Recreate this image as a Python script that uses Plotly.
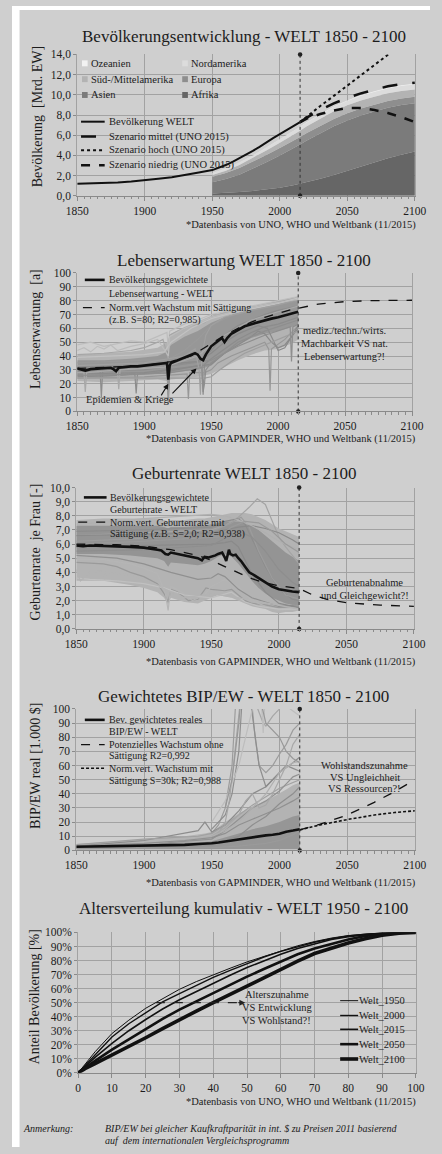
import plotly.graph_objects as go

W, H = 442, 1154
BG = "#cfcfcf"
GRID = "#a2a2a2"
AXIS = "#8a8a8a"
INK = "#1c1c1c"
FONT = "Liberation Serif, Times New Roman, Times, serif"

# ---------------- Panel 1: population ----------------
world_years = [1850, 1860, 1870, 1880, 1890, 1900, 1910, 1920, 1930, 1940, 1950, 1955, 1960,
               1965, 1970, 1975, 1980, 1985, 1990, 1995, 2000, 2005, 2010, 2015]
world_pop = [1.2, 1.22, 1.26, 1.32, 1.42, 1.52, 1.68, 1.84, 2.05, 2.3, 2.55, 2.78, 3.05,
             3.36, 3.7, 4.08, 4.45, 4.85, 5.3, 5.72, 6.1, 6.5, 6.9, 7.3]

region_years = [1950, 1960, 1970, 1980, 1990, 2000, 2010, 2015, 2020, 2030, 2040, 2050,
                2060, 2070, 2080, 2090, 2100]
pop_afrika = [0.23, 0.28, 0.37, 0.48, 0.63, 0.81, 1.04, 1.19, 1.34, 1.68, 2.06, 2.48,
              2.91, 3.33, 3.73, 4.08, 4.39]
pop_asien = [1.12, 1.38, 1.73, 2.20, 2.69, 3.19, 3.64, 3.89, 4.14, 4.52, 4.84, 4.99,
             5.05, 5.02, 4.99, 4.92, 4.77]
pop_europa = [0.55, 0.60, 0.66, 0.69, 0.72, 0.73, 0.74, 0.74, 0.74, 0.73, 0.72, 0.71,
              0.69, 0.68, 0.67, 0.65, 0.65]
pop_suedmittel = [0.17, 0.22, 0.29, 0.36, 0.45, 0.53, 0.60, 0.63, 0.67, 0.72, 0.76, 0.78,
                  0.79, 0.78, 0.76, 0.74, 0.72]
pop_nordamerika = [0.17, 0.20, 0.23, 0.25, 0.28, 0.31, 0.34, 0.36, 0.37, 0.40, 0.42, 0.43,
                   0.45, 0.47, 0.48, 0.49, 0.50]
pop_ozeanien = [0.013, 0.016, 0.020, 0.023, 0.027, 0.031, 0.037, 0.039, 0.043, 0.048, 0.053,
                0.057, 0.061, 0.065, 0.068, 0.070, 0.071]

scen_years = [2015, 2020, 2030, 2040, 2050, 2060, 2070, 2080, 2090, 2100]
scen_mittel = [7.3, 7.75, 8.5, 9.15, 9.7, 10.15, 10.5, 10.85, 11.05, 11.2]
scen_hoch = [7.3, 7.85, 8.9, 9.9, 10.9, 11.85, 12.85, 13.85, 14.9, 16.0]
scen_niedrig = [7.3, 7.65, 8.1, 8.45, 8.7, 8.7, 8.5, 8.2, 7.8, 7.3]

SPLIT_YEAR = 2015

# ---------------- Panel 2: life expectancy ----------------
le_band_years = [1850, 1870, 1890, 1910, 1917, 1920, 1930, 1940, 1950, 1960, 1970, 1980,
                 1990, 2000, 2010, 2015]
le_wide_low = [22, 21, 22, 23, 22, 23, 24, 25, 27, 32, 37, 41, 44, 45, 49, 52]
le_wide_high = [41, 42, 43, 46, 50, 56, 61, 65, 69, 72, 74, 76, 78, 80, 82, 83]
le_core_low = [25, 25, 26, 27, 27, 28, 29, 30, 33, 42, 48, 53, 56, 58, 61, 63]
le_core_high = [37, 37, 38, 40, 43, 48, 54, 58, 64, 68, 71, 73, 75, 77, 79, 80]

le_countries = [
    ([1850, 1860, 1870, 1880, 1890, 1900, 1910, 1917, 1918, 1919, 1930, 1940, 1950, 1960, 1970, 1980, 1990, 2000, 2015],
     [48, 50, 47, 49, 51, 50, 54, 57, 45, 58, 63, 66, 70, 72, 74, 76, 78, 80, 83]),
    ([1850, 1870, 1890, 1900, 1910, 1914, 1918, 1919, 1925, 1935, 1945, 1950, 1960, 1970, 1980, 1990, 2000, 2015],
     [41, 42, 44, 46, 50, 52, 38, 55, 58, 62, 64, 68, 71, 73, 75, 77, 79, 82]),
    ([1850, 1867, 1868, 1869, 1890, 1917, 1918, 1919, 1940, 1950, 1960, 1970, 1980, 1990, 2000, 2015],
     [30, 31, 10, 30, 32, 34, 12, 34, 36, 44, 55, 62, 66, 70, 73, 76]),
    ([1850, 1880, 1893, 1894, 1895, 1910, 1917, 1918, 1919, 1930, 1940, 1943, 1944, 1945, 1950, 1960, 1970, 1980, 1990, 2000, 2015],
     [25, 26, 27, 13, 27, 28, 30, 8, 29, 31, 33, 34, 12, 34, 38, 45, 52, 57, 61, 63, 68]),
    ([1850, 1900, 1932, 1933, 1934, 1945, 1950, 1955, 1965, 1975, 1985, 1990, 1993, 1994, 1995, 2005, 2015],
     [24, 25, 27, 9, 28, 28, 30, 35, 40, 44, 48, 50, 45, 15, 45, 52, 62]),
    ([1850, 1900, 1950, 1960, 1970, 1980, 1985, 1990, 1995, 2000, 2005, 2010, 2015],
     [27, 28, 34, 42, 48, 54, 58, 56, 50, 46, 48, 54, 60]),
    ([1850, 1900, 1940, 1950, 1960, 1970, 1985, 1992, 2000, 2005, 2015],
     [32, 33, 36, 42, 50, 56, 62, 60, 44, 46, 62]),
    ([1850, 1900, 1945, 1950, 1955, 1965, 1975, 1985, 1995, 2005, 2015],
     [24, 24, 24, 25, 29, 36, 42, 46, 50, 54, 58]),
    ([1850, 1880, 1900, 1915, 1920, 1935, 1950, 1965, 1980, 2000, 2015],
     [39, 40, 41, 43, 50, 60, 67, 71, 74, 78, 82]),
    ([1850, 1900, 1950, 1970, 1990, 2005, 2009, 2010, 2011, 2015],
     [29, 30, 37, 47, 55, 60, 61, 36, 61, 63]),
    ([1850, 1880, 1900, 1917, 1918, 1919, 1930, 1940, 1950, 1965, 1980, 2000, 2015],
     [35, 36, 37, 37, 5, 38, 44, 52, 62, 69, 73, 77, 80]),
    ([1850, 1900, 1930, 1938, 1941, 1942, 1943, 1946, 1950, 1960, 1980, 2000, 2015],
     [33, 35, 40, 45, 30, 12, 40, 55, 62, 68, 73, 77, 81]),
    ([1850, 1855, 1856, 1857, 1880, 1881, 1882, 1915, 1940, 1950, 1960, 1980, 2000, 2015],
     [28, 28, 14, 28, 30, 16, 30, 32, 40, 48, 55, 66, 72, 76]),
    ([1850, 1855, 1860, 1865, 1870, 1875, 1880, 1890, 1900, 1910, 1918, 1919, 1930, 1950, 1970, 1990, 2015],
     [44, 46, 43, 47, 45, 48, 44, 47, 49, 52, 40, 54, 60, 68, 73, 77, 81]),
    ([1850, 1900, 1920, 1935, 1940, 1943, 1944, 1945, 1946, 1950, 1960, 1970, 1990, 2015],
     [26, 27, 28, 30, 31, 32, 14, 20, 30, 35, 42, 50, 58, 66]),
]
le_country_colors = ["#bdbdbd", "#a6a6a6", "#8c8c8c", "#8c8c8c", "#979797", "#8a8a8a", "#8a8a8a",
                     "#9e9e9e", "#c2c2c2", "#8e8e8e", "#9a9a9a", "#a0a0a0", "#a8a8a8", "#bcbcbc",
                     "#8e8e8e"]

le_world_years = [1850, 1853, 1856, 1860, 1865, 1870, 1875, 1877, 1879, 1881, 1885, 1890, 1895, 1900,
                  1905, 1910, 1915, 1917, 1918, 1919, 1920, 1925, 1930, 1935, 1938, 1940, 1942, 1944,
                  1946, 1950, 1955, 1958, 1960, 1962, 1965, 1970, 1975, 1980, 1985, 1990, 1995, 2000,
                  2005, 2010, 2015]
le_world = [31, 30, 29.5, 30.5, 31, 31.5, 31.5, 30.5, 29, 31.5, 32, 32.5, 32.5, 33,
            33.5, 34, 34.5, 35, 23, 33, 35, 37, 39, 41, 42, 41, 38, 37,
            41, 47, 51, 53, 50, 53, 56, 59, 61.5, 63, 64.5, 66, 67, 68,
            69.5, 71, 72]
le_fit_years = [1850, 1900, 1920, 1935, 1950, 1960, 1970, 1980, 1990, 2000, 2010, 2015, 2030,
                2050, 2070, 2100]
le_fit = [31, 33, 36, 40, 49, 55, 60, 64.5, 68, 71, 73.5, 74.5, 77.5, 79.3, 80, 80.3]

# ---------------- Panel 3: fertility ----------------
tfr_band_years = [1850, 1870, 1890, 1900, 1910, 1915, 1918, 1920, 1930, 1940, 1945, 1950, 1955,
                  1960, 1965, 1970, 1975, 1980, 1985, 1990, 1995, 2000, 2005, 2010, 2015]
tfr_wide_low = [3.4, 3.4, 3.1, 2.9, 2.6, 2.2, 1.7, 2.2, 1.9, 1.8, 2.0, 2.2, 2.4, 2.3, 2.2, 2.0,
                1.8, 1.6, 1.5, 1.4, 1.2, 1.1, 1.2, 1.2, 1.3]
tfr_wide_high = [7.7, 7.8, 7.8, 7.8, 7.8, 7.7, 7.6, 7.7, 7.7, 7.8, 7.8, 7.9, 8.0, 8.1, 8.2,
                 8.2, 8.2, 8.1, 7.9, 7.7, 7.4, 7.1, 6.9, 6.7, 6.5]
tfr_core_low = [5.3, 5.3, 5.2, 5.1, 5.0, 4.8, 4.4, 4.7, 4.6, 4.5, 4.6, 4.8, 5.1, 5.3, 5.1, 4.6,
                4.0, 3.4, 2.9, 2.5, 2.2, 2.0, 1.8, 1.7, 1.7]
tfr_core_high = [7.3, 7.3, 7.3, 7.3, 7.3, 7.2, 7.1, 7.2, 7.2, 7.3, 7.3, 7.4, 7.5, 7.6, 7.6,
                 7.6, 7.5, 7.3, 7.0, 6.6, 6.2, 5.8, 5.4, 5.1, 4.8]

tfr_countries = [
    ([1850, 1870, 1880, 1890, 1900, 1910, 1915, 1918, 1920, 1925, 1933, 1940, 1946, 1950, 1960, 1965, 1970, 1975, 1980, 1990, 2000, 2010, 2015],
     [4.7, 4.6, 4.4, 4.0, 3.7, 3.2, 2.5, 1.9, 2.8, 2.6, 2.0, 2.1, 2.9, 2.8, 2.7, 2.8, 2.4, 2.0, 1.8, 1.7, 1.5, 1.6, 1.6]),
    ([1850, 1870, 1890, 1900, 1910, 1916, 1918, 1920, 1930, 1936, 1945, 1950, 1960, 1970, 1980, 1990, 2000, 2015],
     [4.9, 4.9, 4.6, 4.3, 3.9, 2.5, 1.3, 3.0, 2.5, 2.0, 2.4, 3.0, 3.5, 3.0, 2.0, 1.6, 1.3, 1.5]),
    ([1850, 1860, 1880, 1900, 1915, 1930, 1950, 1960, 1965, 1975, 1985, 2000, 2015],
     [3.6, 3.5, 3.4, 3.2, 2.9, 2.4, 2.2, 2.5, 2.6, 1.9, 1.6, 1.4, 1.4]),
    ([1850, 1880, 1900, 1920, 1940, 1950, 1955, 1960, 1970, 1980, 1990, 2000, 2015],
     [5.2, 5.0, 4.6, 4.0, 3.5, 3.6, 3.9, 3.7, 2.8, 2.2, 1.9, 1.6, 1.7]),
    ([1850, 1900, 1940, 1950, 1960, 1970, 1978, 1984, 1990, 1995, 2000, 2005, 2015],
     [6.6, 6.8, 7.0, 7.0, 7.3, 7.9, 8.6, 9.2, 8.8, 7.7, 6.5, 5.8, 4.6]),
    ([1850, 1900, 1950, 1960, 1970, 1975, 1980, 1990, 2000, 2010, 2015],
     [6.9, 7.0, 7.2, 7.6, 7.8, 7.4, 6.4, 4.4, 2.8, 2.1, 2.0]),
    ([1850, 1900, 1950, 1960, 1965, 1970, 1975, 1980, 1990, 2000, 2015],
     [5.8, 5.9, 6.0, 6.1, 6.2, 5.8, 4.8, 3.9, 2.6, 1.8, 1.5]),
    ([1850, 1900, 1950, 1965, 1972, 1978, 1985, 1995, 2005, 2015],
     [6.2, 6.4, 6.9, 7.5, 7.9, 7.2, 5.5, 3.6, 2.4, 2.1]),
    ([1850, 1900, 1950, 1970, 1980, 1990, 2000, 2010, 2015],
     [6.6, 6.7, 6.8, 7.2, 7.3, 7.1, 6.8, 6.3, 6.0]),
    ([1850, 1880, 1900, 1930, 1950, 1960, 1970, 1980, 1990, 2000, 2015],
     [7.4, 7.6, 7.8, 8.0, 8.1, 8.0, 7.7, 7.3, 6.8, 6.2, 5.6]),
    ([1850, 1853, 1860, 1870, 1871, 1872, 1890, 1900, 1910, 1920, 1930, 1950, 1970, 2015],
     [4.2, 3.4, 4.0, 4.1, 3.5, 4.0, 3.8, 3.5, 3.1, 2.6, 2.2, 2.5, 2.2, 1.4]),
    ([1850, 1900, 1950, 1960, 1970, 1980, 1990, 2000, 2010, 2015],
     [5.5, 5.6, 5.9, 6.4, 6.9, 6.5, 5.5, 4.2, 3.3, 3.0]),
    ([1850, 1900, 1955, 1965, 1975, 1985, 1995, 2005, 2015],
     [6.0, 6.2, 6.5, 7.2, 7.6, 7.5, 6.9, 6.0, 5.4]),
]
tfr_country_colors = ["#9a9a9a", "#b5b5b5", "#c0c0c0", "#909090", "#a4a4a4", "#8c8c8c", "#8a8a8a",
                      "#9c9c9c", "#8a8a8a", "#b0b0b0", "#b3b3b3", "#8e8e8e", "#9a9a9a"]

tfr_world_years = [1850, 1855, 1860, 1870, 1880, 1890, 1900, 1905, 1910, 1913, 1916, 1918, 1920,
                   1925, 1930, 1935, 1940, 1943, 1945, 1948, 1950, 1953, 1955, 1958, 1960, 1961,
                   1963, 1964, 1966, 1968, 1970, 1972, 1975, 1978, 1980, 1985, 1990, 1995, 2000,
                   2005, 2010, 2015]
tfr_world = [5.9, 5.85, 5.9, 5.88, 5.85, 5.8, 5.75, 5.7, 5.6, 5.55, 5.3, 5.25, 5.4,
             5.3, 5.2, 5.1, 5.0, 4.85, 5.1, 5.05, 5.1, 5.2, 5.3, 5.4, 5.05, 4.8,
             5.6, 5.3, 5.2, 5.25, 5.0, 4.8, 4.4, 4.0, 3.9, 3.6, 3.35, 3.0, 2.8,
             2.7, 2.65, 2.6]
tfr_fit_years = [1850, 1880, 1900, 1920, 1940, 1950, 1960, 1970, 1980, 1990, 2000, 2015, 2025,
                 2035, 2050, 2075, 2100]
tfr_fit = [6.0, 5.95, 5.85, 5.6, 5.2, 4.85, 4.4, 3.95, 3.55, 3.25, 3.05, 2.85, 2.4,
           2.1, 1.85, 1.68, 1.6]

# ---------------- Panel 4: GDP per capita ----------------
gdp_band_years = [1850, 1870, 1890, 1900, 1910, 1920, 1930, 1940, 1945, 1950, 1960, 1970, 1980,
                  1990, 2000, 2005, 2010, 2015]
gdp_wide_low = [0.6] * 18
gdp_wide_high = [4.5, 5.5, 7, 8, 9, 9.5, 10, 11, 12, 13, 20, 26, 31, 35, 40, 43, 46, 48]
gdp_core_low = [0.9] * 18
gdp_core_high = [3.2, 3.6, 4.2, 4.6, 5.0, 5.2, 5.5, 6.0, 6.0, 6.5, 9, 12, 15, 17, 20, 22, 24, 25]

gdp_countries = [
    ([1950, 1955, 1960, 1965, 1968, 1970, 1974, 1977, 1980, 1982, 1985, 1990, 1995, 2000, 2005, 2010, 2015],
     [12, 18, 30, 60, 110, 140, 160, 120, 100, 80, 60, 55, 60, 68, 75, 85, 90]),
    ([1950, 1960, 1965, 1970, 1972, 1975, 1978, 1980, 1985, 1990, 1995, 2000, 2005, 2010, 2015],
     [15, 25, 40, 70, 100, 130, 110, 95, 60, 45, 50, 55, 60, 58, 56]),
    ([1950, 1955, 1960, 1963, 1966, 1970, 1975, 1980, 1984, 1988, 1990, 1995, 2000, 2005, 2010, 2015],
     [8, 12, 20, 35, 60, 100, 140, 120, 100, 90, 88, 95, 100, 110, 120, 130]),
    ([1950, 1960, 1970, 1975, 1980, 1985, 1987, 1988, 1989, 1992, 2000, 2008, 2015],
     [20, 35, 60, 80, 100, 110, 100, 83, 100, 105, 108, 100, 95]),
    ([1850, 1900, 1940, 1945, 1950, 1960, 1970, 1980, 1990, 2000, 2010, 2015],
     [3, 7, 14, 20, 13, 18, 28, 40, 45, 55, 62, 66]),
    ([1850, 1900, 1940, 1950, 1960, 1970, 1980, 1990, 2000, 2010, 2015],
     [4, 8, 10, 12, 18, 25, 32, 38, 44, 48, 50]),
    ([1850, 1900, 1950, 1960, 1970, 1980, 1990, 2000, 2005, 2010, 2015],
     [2, 4, 8, 14, 22, 30, 35, 42, 47, 52, 54]),
    ([1950, 1960, 1970, 1975, 1980, 1985, 1990, 1995, 2000, 2005, 2010, 2015],
     [10, 16, 25, 35, 40, 30, 32, 40, 50, 60, 75, 82]),
    ([1850, 1900, 1950, 1970, 1980, 1990, 2000, 2010, 2015],
     [1.5, 2.5, 4, 10, 18, 24, 33, 40, 45]),
    ([1850, 1900, 1950, 1970, 1990, 2000, 2010, 2015],
     [1, 1.5, 2, 3, 5, 7, 11, 14]),
    ([1850, 1900, 1950, 1960, 1970, 1980, 1990, 2000, 2010, 2015],
     [2.5, 4, 10, 14, 20, 30, 40, 55, 62, 63]),
    ([1850, 1900, 1930, 1950, 1960, 1970, 1980, 1990, 2000, 2010, 2015],
     [3, 5, 7, 9, 12, 18, 22, 26, 30, 35, 38]),
    ([1960, 1965, 1970, 1975, 1980, 1990, 2000, 2005, 2010, 2015],
     [30, 50, 90, 150, 130, 90, 80, 70, 65, 62]),
]
gdp_country_colors = ["#9c9c9c", "#8e8e8e", "#a6a6a6", "#bdbdbd", "#8c8c8c", "#a0a0a0", "#929292",
                      "#a8a8a8", "#8e8e8e", "#9a9a9a", "#b0b0b0", "#909090", "#989898"]

gdp_world_years = [1850, 1870, 1890, 1900, 1910, 1920, 1930, 1940, 1945, 1950, 1955, 1960, 1965,
                   1970, 1975, 1980, 1985, 1990, 1995, 2000, 2005, 2008, 2010, 2015]
gdp_world = [2.6, 2.8, 3.0, 3.2, 3.5, 3.6, 3.9, 4.5, 4.6, 5.0, 5.6, 6.3, 7.2,
             8.2, 8.8, 9.6, 10.1, 10.6, 11.0, 11.8, 13.2, 14.0, 14.0, 15.0]
gdp_fit_years = [2015, 2030, 2050, 2070, 2085, 2100]
gdp_fit_potential = [14.5, 18.5, 25, 34, 41.5, 50]
gdp_fit_saturation = [14.5, 18, 21.8, 25, 26.8, 28]

# ---------------- Panel 5: cumulative age distribution ----------------
ages = [0, 2, 5, 10, 15, 20, 25, 30, 35, 40, 45, 50, 55, 60, 65, 70, 75, 80, 85, 90, 95, 100]
age_1950 = [0, 6, 15, 28, 37.5, 46, 53, 59.5, 65, 70, 74.5, 79, 83, 87, 90.5, 93.5, 96, 97.8,
            99, 99.7, 99.95, 100]
age_2000 = [0, 5, 13, 25.5, 35, 43, 50.5, 56.5, 62.5, 68, 73, 78, 82.5, 86.5, 90, 93, 95.5,
            97.5, 98.8, 99.6, 99.9, 100]
age_2015 = [0, 4.5, 11, 21, 30, 38, 45.5, 52, 58, 64, 69.5, 75, 80, 84.5, 88.5, 92, 95, 97,
            98.5, 99.5, 99.9, 100]
age_2050 = [0, 3.5, 8.5, 16.5, 24, 31.5, 38.5, 45, 51, 57, 63, 68.5, 74, 79.5, 84.5, 88.5,
            92, 95, 97.5, 99, 99.8, 100]
age_2100 = [0, 3, 6.5, 12.5, 18.8, 25, 31.5, 38, 44, 50, 56, 62, 68, 74, 79.5, 85, 89, 92.5,
            95.5, 98, 99.5, 100]
age_labels = ["Welt_1950", "Welt_2000", "Welt_2015", "Welt_2050", "Welt_2100"]

# ---------------- figure helpers ----------------
fig = go.Figure()
shapes = []
annotations = []


def px(x):
    return x / W


def py(y):
    return 1 - y / H


def text(x, y, s, size=10.5, anchor="left", angle=0, color=INK):
    annotations.append(dict(x=px(x), y=py(y), xref="paper", yref="paper", text=s,
                            showarrow=False, xanchor=anchor, yanchor="middle",
                            textangle=angle, borderpad=0,
                            font=dict(family=FONT, size=size, color=color)))


def legend_line(x0, x1, y, width=2, dash="solid", color="#111111"):
    shapes.append(dict(type="line", xref="paper", yref="paper", x0=px(x0), x1=px(x1),
                       y0=py(y), y1=py(y), line=dict(color=color, width=width, dash=dash)))


def legend_box(x, y, color, s=3):
    shapes.append(dict(type="rect", xref="paper", yref="paper", x0=px(x - s), x1=px(x + s),
                       y0=py(y + s), y1=py(y - s), fillcolor=color, line=dict(width=0)))


def refs(i):
    return ("x", "y") if i == 1 else (f"x{i}", f"y{i}")


def setup_axes(i, box, xrange, xdtick, yrange, ydtick, yformat="", ysuffix="", xminor=5):
    x0, x1, y0, y1 = box
    xname = "xaxis" if i == 1 else f"xaxis{i}"
    yname = "yaxis" if i == 1 else f"yaxis{i}"
    xr, yr = refs(i)
    xa = dict(domain=[px(x0), px(x1)], anchor=yr, range=xrange, dtick=xdtick, tick0=xrange[0],
              showgrid=True, gridcolor=GRID, gridwidth=1, zeroline=False,
              showline=True, linecolor=AXIS, linewidth=1, mirror=False,
              ticks="outside", ticklen=4, tickcolor=AXIS, tickwidth=1,
              tickfont=dict(family=FONT, size=11.5, color=INK), fixedrange=True)
    if xminor:
        xa["minor"] = dict(dtick=xminor, ticks="outside", ticklen=2.5, tickcolor=AXIS,
                           showgrid=False)
    ya = dict(domain=[py(y1), py(y0)], anchor=xr, range=yrange, dtick=ydtick, tick0=0,
              showgrid=True, gridcolor=GRID, gridwidth=1, zeroline=False,
              showline=True, linecolor=GRID, linewidth=1, mirror=True,
              ticks="outside", ticklen=3, tickcolor=AXIS,
              tickformat=yformat, ticksuffix=ysuffix,
              tickfont=dict(family=FONT, size=11.5, color=INK), fixedrange=True)
    return xname, xa, yname, ya


def band(i, years, low, high, color):
    xr, yr = refs(i)
    fig.add_trace(go.Scatter(x=list(years) + list(years)[::-1], y=list(high) + list(low)[::-1],
                             mode="lines", fill="toself", fillcolor=color,
                             line=dict(width=0), xaxis=xr, yaxis=yr, hoverinfo="skip"))


def line(i, xs, ys, color, width=1, dash="solid"):
    xr, yr = refs(i)
    fig.add_trace(go.Scatter(x=xs, y=ys, mode="lines", line=dict(color=color, width=width,
                             dash=dash), xaxis=xr, yaxis=yr, hoverinfo="skip"))


def split_marker(i, ymax):
    xr, yr = refs(i)
    fig.add_trace(go.Scatter(x=[SPLIT_YEAR, SPLIT_YEAR], y=[0, ymax], mode="lines+markers",
                             line=dict(color="#333333", width=1, dash="dot"),
                             marker=dict(size=4.5, color="#222222"),
                             xaxis=xr, yaxis=yr, hoverinfo="skip", cliponaxis=False))


layout_axes = {}

# ---------------- Panel 1 ----------------
box1 = (69, 426, 49, 192)
a = setup_axes(1, box1, [1850, 2100], 50, [0, 14], 2, ".1f")
layout_axes[a[0]] = a[1]; layout_axes[a[2]] = a[3]

region_series = [
    ("Afrika", pop_afrika, "#666666"),
    ("Asien", pop_asien, "#7b7b7b"),
    ("Europa", pop_europa, "#8e8e8e"),
    ("Süd-/Mittelamerika", pop_suedmittel, "#b3b3b3"),
    ("Nordamerika", pop_nordamerika, "#dcdcdc"),
    ("Ozeanien", pop_ozeanien, "#f2f2f2"),
]
for name, vals, col in region_series:
    fig.add_trace(go.Scatter(x=region_years, y=vals, mode="lines", stackgroup="regions",
                             line=dict(width=0, color=col), fillcolor=col, name=name,
                             xaxis="x", yaxis="y", hoverinfo="skip"))
line(1, world_years, world_pop, "#111111", 2)
line(1, scen_years, scen_hoch, "#111111", 2, "dot")
line(1, scen_years, scen_mittel, "#111111", 2.5, "longdash")
line(1, scen_years, scen_niedrig, "#111111", 2.5, "dash")
split_marker(1, 14)

# legend of panel 1
reg_colors = {n: c for n, _, c in region_series}
legend_rows = [(58, "Ozeanien", "Nordamerika"), (74, "Süd-/Mittelamerika", "Europa"),
               (90, "Asien", "Afrika")]
for y, left, right in legend_rows:
    legend_box(77, y, reg_colors[left])
    text(82, y, left, 10.5)
    legend_box(183, y, reg_colors[right])
    text(188, y, right, 10.5)
for y, label, dash, wd in [(117, "Bevölkerung WELT", "solid", 2),
                           (132, "Szenario mittel (UNO 2015)", "longdash", 2.5),
                           (146, "Szenario hoch (UNO 2015)", "dot", 2),
                           (161, "Szenario niedrig (UNO 2015)", "dash", 2.5)]:
    legend_line(73, 98, y, wd, dash)
    text(101, y, label, 10.5)

# ---------------- Panel 2 ----------------
box2 = (69, 423, 270, 410)
a = setup_axes(2, box2, [1850, 2100], 50, [0, 100], 10)
layout_axes[a[0]] = a[1]; layout_axes[a[2]] = a[3]
band(2, le_band_years, le_wide_low, le_wide_high, "#b3b3b3")
band(2, le_band_years, le_core_low, le_core_high, "#979797")
for (xs, ys), col in zip(le_countries, le_country_colors):
    line(2, xs, ys, col, 1.2)
line(2, le_fit_years, le_fit, "#111111", 1.3, "dash")
line(2, le_world_years, le_world, "#111111", 2.6)
split_marker(2, 100)

legend_line(77, 98, 277, 2.6)
text(101, 277, "Bevölkerungsgewichtete", 10)
text(101, 291, "Lebenserwartung - WELT", 10)
legend_line(75, 98, 305, 1.3, "dash")
text(101, 305, "Norm.vert Wachstum mit Sättigung", 10)
text(101, 318, "(z.B. S=80; R2=0,985)", 10)
for y, s in [(328, "mediz./techn./wirts."), (341, "Machbarkeit VS nat."),
             (354, "Lebenserwartung?!")]:
    text(352, y, s, 10.5, anchor="center")
text(77, 398, "Epidemien &amp; Kriege", 10.5)
for (hx, hy, tx, ty) in [(1918, 20, 1912, 10.5), (1939, 31, 1920, 12)]:
    annotations.append(dict(x=hx, y=hy, ax=tx, ay=ty, xref="x2", yref="y2", axref="x2",
                            ayref="y2", text="", showarrow=True, arrowhead=2, arrowsize=1,
                            arrowwidth=1.1, arrowcolor="#111111"))

# ---------------- Panel 3 ----------------
box3 = (68, 425, 487, 630)
a = setup_axes(3, box3, [1850, 2100], 50, [0, 10], 1, ".1f")
layout_axes[a[0]] = a[1]; layout_axes[a[2]] = a[3]
band(3, tfr_band_years, tfr_wide_low, tfr_wide_high, "#b3b3b3")
band(3, tfr_band_years, tfr_core_low, tfr_core_high, "#949494")
for (xs, ys), col in zip(tfr_countries, tfr_country_colors):
    line(3, xs, ys, col, 1.2)
line(3, tfr_fit_years, tfr_fit, "#111111", 1.3, "dash")
line(3, tfr_world_years, tfr_world, "#111111", 2.6)
split_marker(3, 10)

legend_line(76, 100, 497, 2.6)
text(103, 497, "Bevölkerungsgewichtete", 10)
text(103, 509, "Geburtenrate - WELT", 10)
legend_line(70, 100, 522, 1.3, "dash")
text(103, 522, "Norm.vert. Geburtenrate mit", 10)
text(103, 534, "Sättigung (z.B. S=2,0; R2=0,938)", 10)
text(373, 583, "Geburtenabnahme", 10.5, anchor="center")
text(373, 596, "und Gleichgewicht?!", 10.5, anchor="center")

# ---------------- Panel 4 ----------------
box4 = (68, 426, 711, 854)
a = setup_axes(4, box4, [1850, 2100], 50, [0, 100], 10)
layout_axes[a[0]] = a[1]; layout_axes[a[2]] = a[3]
band(4, gdp_band_years, gdp_wide_low, gdp_wide_high, "#b3b3b3")
band(4, gdp_band_years, gdp_core_low, gdp_core_high, "#969696")
for (xs, ys), col in zip(gdp_countries, gdp_country_colors):
    line(4, xs, ys, col, 1.2)
line(4, gdp_fit_years, gdp_fit_potential, "#111111", 1.3, "dash")
line(4, gdp_fit_years, gdp_fit_saturation, "#111111", 1.6, "3px,2px")
line(4, gdp_world_years, gdp_world, "#111111", 2.6)
split_marker(4, 100)

legend_line(77, 98, 722, 2.6)
text(101, 722, "Bev. gewichtetes reales", 10)
text(101, 734, "BIP/EW - WELT", 10)
legend_line(73, 98, 747, 1.3, "dash")
text(101, 747, "Potenzielles Wachstum ohne", 10)
text(101, 758, "Sättigung R2=0,992", 10)
legend_line(73, 98, 771, 1.6, "3px,2px")
text(101, 771, "Norm.vert. Wachstum mit", 10)
text(101, 783, "Sättigung S=30k; R2=0,988", 10)
for y, s in [(768, "Wohlstandszunahme"), (780, "VS Ungleichheit"), (791, "VS Ressourcen?!")]:
    text(373, y, s, 10.5, anchor="center")

# ---------------- Panel 5 ----------------
box5 = (70, 427, 937, 1079)
a = setup_axes(5, box5, [0, 100], 10, [0, 100], 10, "", "%", xminor=None)
layout_axes[a[0]] = a[1]; layout_axes[a[2]] = a[3]
age_series = [age_1950, age_2000, age_2015, age_2050, age_2100]
age_widths = [1.0, 1.4, 1.6, 2.6, 3.6]
for vals, wd in zip(age_series, age_widths):
    line(5, ages, vals, "#111111", wd)
shapes.append(dict(type="line", xref="x5", yref="y5", x0=23, x1=47.5, y0=50, y1=50,
                   line=dict(color="#222222", width=1.3, dash="dash")))
annotations.append(dict(x=49.5, y=50, ax=47, ay=50, xref="x5", yref="y5", axref="x5",
                        ayref="y5", text="", showarrow=True, arrowhead=2, arrowsize=1,
                        arrowwidth=1.2, arrowcolor="#222222"))
for y, s in [(1000, "Alterszunahme"), (1013, "VS Entwicklung"), (1026, "VS Wohlstand?!")]:
    text(280, y, s, 10.5, anchor="center")
for y, label, wd in zip([1006, 1021, 1035, 1050, 1065], age_labels, age_widths):
    legend_line(347, 366, y, wd)
    text(366, y, label, 10.5)

# ---------------- titles, axis titles, footnotes ----------------
for y, s in [(31, "Bevölkerungsentwicklung - WELT 1850 - 2100"),
             (257, "Lebenserwartung WELT 1850 - 2100"),
             (473, "Geburtenrate WELT 1850 - 2100"),
             (698, "Gewichtetes BIP/EW - WELT 1850 - 2100"),
             (913, "Altersverteilung kumulativ - WELT 1950 - 2100")]:
    text(245, y, s, 17, anchor="center")

for x, y, s in [(27, 112, "Bevölkerung  [Mrd. EW]"),
                (25, 327, "Lebenserwartung  [a]"),
                (25, 552, "Geburtenrate  je Frau [-]"),
                (25, 768, "BIP/EW real [1.000 $]"),
                (24, 1002, "Anteil Bevölkerung [%]")]:
    text(x, y, s, 14, anchor="center", angle=-90)

for y, s in [(221, "*Datenbasis von UNO, WHO und Weltbank (11/2015)"),
             (438, "*Datenbasis von GAPMINDER, WHO und Weltbank (11/2015)"),
             (663, "*Datenbasis von GAPMINDER, WHO und Weltbank (11/2015)"),
             (887, "*Datenbasis von GAPMINDER, WHO und Weltbank (11/2015)"),
             (1108, "*Datenbasis von UNO, WHO und Weltbank (11/2015)")]:
    text(428, y, s, 10.5, anchor="right")

text(11, 1135, "<i>Anmerkung:</i>", 10)
text(97, 1135, "<i>BIP/EW bei gleicher Kaufkraftparität in int. $ zu Preisen 2011 basierend</i>", 10)
text(97, 1147, "<i>auf  dem internationalen Vergleichsprogramm</i>", 10)

# white page margin on the left and top edges
shapes.append(dict(type="rect", xref="paper", yref="paper", x0=0, x1=px(8), y0=0, y1=1,
                   fillcolor="white", line=dict(width=0), layer="below"))
shapes.append(dict(type="rect", xref="paper", yref="paper", x0=0, x1=1, y0=py(4), y1=1,
                   fillcolor="white", line=dict(width=0), layer="below"))

fig.update_layout(
    width=W, height=H, margin=dict(l=0, r=0, t=0, b=0),
    paper_bgcolor=BG, plot_bgcolor=BG, showlegend=False, hovermode=False,
    separators=",.", font=dict(family=FONT, color=INK),
    shapes=shapes, annotations=annotations, **layout_axes,
)
fig.write_html("out.html", config={"displayModeBar": False, "staticPlot": True})
